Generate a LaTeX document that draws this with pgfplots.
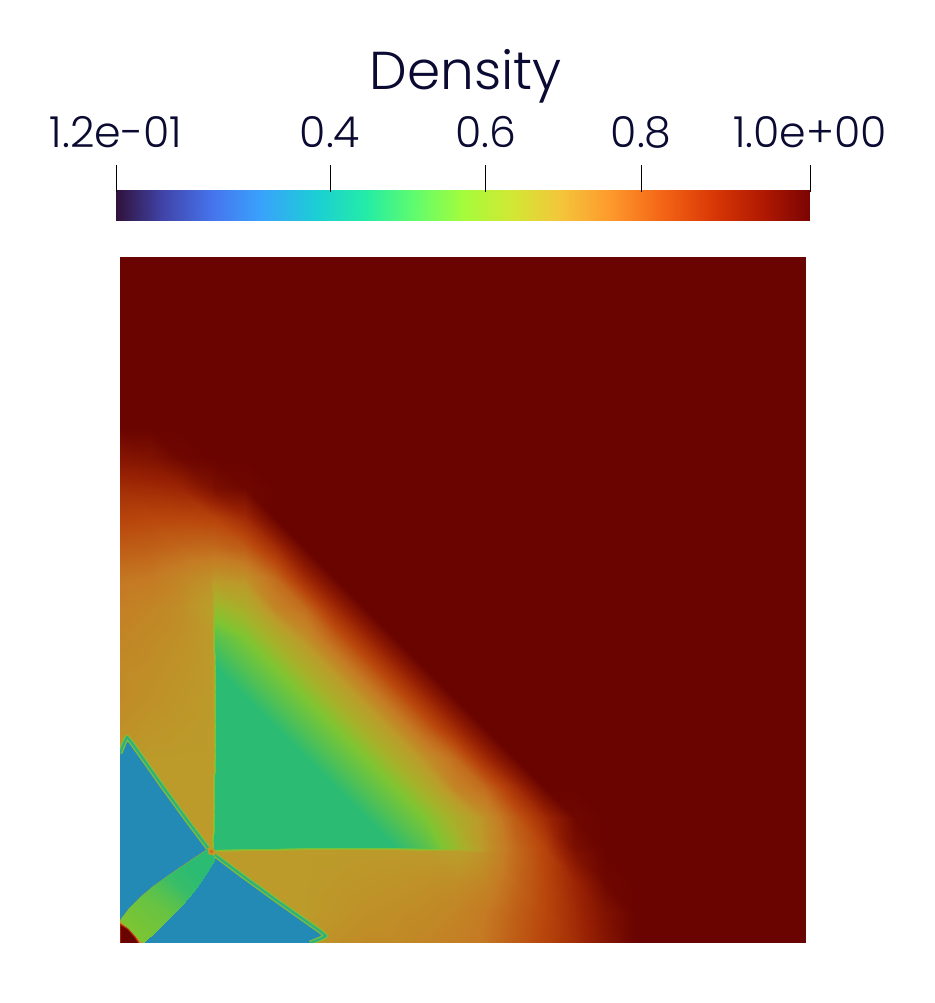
\documentclass[border=0pt]{standalone}
\usepackage{fontspec}
\setmainfont{Poppins Light}
\usepackage{pgfplots}
\pgfplotsset{compat=1.18}
\usepgfplotslibrary{patchplots}
\definecolor{labelnavy}{RGB}{10,10,50}
\definecolor{fieldred}{RGB}{106,4,0}
\definecolor{fieldblue}{RGB}{34,138,180}
\definecolor{edgeouter}{RGB}{150,185,50}
\definecolor{edgemid}{RGB}{90,192,80}
\definecolor{edgeinner}{RGB}{45,175,130}
\definecolor{cornerrim}{RGB}{190,50,10}
\definecolor{triplehalo}{RGB}{188,155,42}
\definecolor{tripledot}{RGB}{225,100,30}
\pgfplotsset{
  colormap={field}{
    rgb255(120)=(42,15,50) rgb255(330)=(33,137,180) rgb255(390)=(30,160,150)
    rgb255(455)=(43,187,115) rgb255(500)=(85,193,80) rgb255(560)=(125,197,50)
    rgb255(630)=(165,178,42) rgb255(720)=(188,155,42) rgb255(780)=(197,122,35)
    rgb255(850)=(185,70,12) rgb255(920)=(150,32,3) rgb255(1000)=(106,4,0)},
  colormap={turbobar}{
    rgb255(125)=(48,18,59) rgb255(187)=(65,69,171) rgb255(250)=(70,117,237)
    rgb255(312)=(57,162,252) rgb255(384)=(27,207,212) rgb255(446)=(36,236,166)
    rgb255(509)=(97,252,108) rgb255(571)=(164,252,59) rgb255(633)=(209,232,52)
    rgb255(696)=(243,198,58) rgb255(758)=(254,155,45) rgb255(830)=(243,99,21)
    rgb255(892)=(217,56,6) rgb255(955)=(177,25,1) rgb255(1017)=(122,4,2)},
}
\begin{document}
\begin{tikzpicture}
\path[use as bounding box] (0,0) rectangle (701.25pt,752.25pt);

% colour bar
\begin{axis}[
  at={(87pt,586.5pt)}, anchor=south west,
  scale only axis, width=520.5pt, height=23.25pt,
  view={0}{90},
  colormap name=turbobar,
  point meta min=0.125, point meta max=1.017,
  xmin=0.125, xmax=1.017, ymin=0, ymax=1, zmin=0, zmax=2,
  axis line style={draw=none},
  xtick={0.125,0.4,0.6,0.8,1.017},
  xticklabels={1.2e-01,0.4,0.6,0.8,1.0e+00},
  ytick=\empty, ztick=\empty,
  xtick pos=upper, xticklabel pos=upper,
  tick align=outside,
  major tick length=20pt,
  every tick/.style={draw=black, line width=0.6pt, yshift=-1.5pt},
  xticklabel style={font=\fontsize{32}{36}\selectfont, text=labelnavy, anchor=base, yshift=12pt},
  title={Density},
  title style={at={(axis description cs:0.504,3.97)}, anchor=base,
    font=\fontsize{40}{46}\selectfont, text=labelnavy},
  clip=false,
]
\addplot3[surf, shader=interp, mesh/cols=15, point meta=z] coordinates {
 (0.125,0,0.125)(0.187,0,0.187)(0.250,0,0.250)(0.312,0,0.312)(0.384,0,0.384)(0.446,0,0.446)(0.509,0,0.509)(0.571,0,0.571)(0.633,0,0.633)(0.696,0,0.696)(0.758,0,0.758)(0.830,0,0.830)(0.892,0,0.892)(0.955,0,0.955)(1.017,0,1.017)
 (0.125,1,0.125)(0.187,1,0.187)(0.250,1,0.250)(0.312,1,0.312)(0.384,1,0.384)(0.446,1,0.446)(0.509,1,0.509)(0.571,1,0.571)(0.633,1,0.633)(0.696,1,0.696)(0.758,1,0.758)(0.830,1,0.830)(0.892,1,0.892)(0.955,1,0.955)(1.017,1,1.017)
};
\end{axis}

% density field, coordinates in reference pixels from the lower left corner
\begin{axis}[
  at={(90pt,45pt)}, anchor=south west,
  scale only axis, width=514.5pt, height=514.5pt,
  view={0}{90},
  colormap name=field,
  point meta min=0.12, point meta max=1,
  xmin=0, xmax=686, ymin=0, ymax=686, zmin=0, zmax=2,
  hide axis,
]
\addplot3[fill=fieldred, draw=none] coordinates {(0,0,0)(686,0,0)(686,686,0)(0,686,0)};

\addplot3[surf, shader=interp, mesh/cols=19, point meta=z] coordinates {
(0,0,.72)(30,0,.72)(60,0,.72)(91,0,.72)(94,0,.72)(125,0,.72)(155,0,.72)(185,0,.72)(215,0,.74)(245,0,.75)(275,0,.75)(305,0,.76)(335,0,.77)(365,0,.785)(395,0,.82)(425,0,.855)(455,0,.895)(485,0,.95)(515,0,1)
(0,30,.72)(30,30,.72)(60,30,.72)(91,30,.72)(94,30,.72)(125,30,.72)(155,30,.72)(185,30,.72)(215,30,.73)(245,30,.74)(275,30,.745)(305,30,.75)(335,30,.76)(365,30,.78)(395,30,.815)(425,30,.85)(455,30,.90)(485,30,.96)(515,30,1)
(0,60,.72)(30,60,.72)(60,60,.72)(91,60,.72)(94,60,.72)(125,60,.72)(155,60,.72)(185,60,.72)(215,60,.725)(245,60,.73)(275,60,.735)(305,60,.74)(335,60,.745)(365,60,.76)(395,60,.805)(425,60,.85)(455,60,.91)(485,60,.99)(515,60,1)
(0,91,.72)(30,91,.72)(60,91,.72)(91,91,.72)(94,91,.72)(125,92,.72)(155,92,.72)(185,93,.72)(215,93,.72)(245,93,.72)(275,93,.72)(305,92,.72)(335,92,.71)(365,91,.74)(395,91,.80)(425,91,.855)(455,91,.96)(485,91,1)(515,91,1)
(0,94,.72)(30,94,.72)(60,94,.72)(91,94,.72)(94,94,.455)(125,95,.455)(155,95,.455)(185,96,.455)(215,96,.455)(245,96,.455)(275,96,.455)(305,95,.50)(335,95,.60)(365,94,.73)(395,94,.80)(425,94,.855)(455,94,.97)(485,94,1)(515,94,1)
(0,125,.72)(30,125,.72)(60,125,.72)(92,125,.72)(95,125,.455)(125,125,.455)(155,125,.455)(185,125,.455)(215,125,.455)(245,125,.455)(275,125,.50)(305,125,.56)(335,125,.65)(365,125,.74)(395,125,.82)(425,125,.90)(455,125,.99)(485,125,1)(515,125,1)
(0,155,.72)(30,155,.72)(60,155,.72)(92,155,.72)(95,155,.455)(125,155,.455)(155,155,.455)(185,155,.455)(215,155,.455)(245,155,.50)(275,155,.56)(305,155,.65)(335,155,.76)(365,155,.80)(395,155,.89)(425,155,1)(455,155,1)(485,155,1)(515,155,1)
(0,185,.72)(30,185,.72)(60,185,.72)(93,185,.72)(96,185,.455)(125,185,.455)(155,185,.455)(185,185,.455)(215,185,.50)(245,185,.56)(275,185,.65)(305,185,.74)(335,185,.80)(365,185,.90)(395,185,1)(425,185,1)(455,185,1)(485,185,1)(515,185,1)
(0,215,.74)(30,215,.73)(60,215,.725)(93,215,.72)(96,215,.455)(125,215,.455)(155,215,.455)(185,215,.50)(215,215,.56)(245,215,.65)(275,215,.74)(305,215,.815)(335,215,.90)(365,215,1)(395,215,1)(425,215,1)(455,215,1)(485,215,1)(515,215,1)
(0,245,.75)(30,245,.74)(60,245,.73)(93,245,.72)(96,245,.455)(125,245,.455)(155,245,.50)(185,245,.56)(215,245,.65)(245,245,.74)(275,245,.815)(305,245,.90)(335,245,1)(365,245,1)(395,245,1)(425,245,1)(455,245,1)(485,245,1)(515,245,1)
(0,275,.75)(30,275,.745)(60,275,.735)(93,275,.72)(96,275,.455)(125,275,.50)(155,275,.56)(185,275,.65)(215,275,.74)(245,275,.815)(275,275,.90)(305,275,1)(335,275,1)(365,275,1)(395,275,1)(425,275,1)(455,275,1)(485,275,1)(515,275,1)
(0,305,.76)(30,305,.75)(60,305,.74)(92,305,.72)(95,305,.50)(125,305,.56)(155,305,.65)(185,305,.74)(215,305,.815)(245,305,.90)(275,305,1)(305,305,1)(335,305,1)(365,305,1)(395,305,1)(425,305,1)(455,305,1)(485,305,1)(515,305,1)
(0,335,.77)(30,335,.76)(60,335,.745)(92,335,.71)(95,335,.60)(125,335,.65)(155,335,.76)(185,335,.80)(215,335,.90)(245,335,1)(275,335,1)(305,335,1)(335,335,1)(365,335,1)(395,335,1)(425,335,1)(455,335,1)(485,335,1)(515,335,1)
(0,365,.785)(30,365,.78)(60,365,.76)(91,365,.74)(94,365,.73)(125,365,.74)(155,365,.80)(185,365,.90)(215,365,1)(245,365,1)(275,365,1)(305,365,1)(335,365,1)(365,365,1)(395,365,1)(425,365,1)(455,365,1)(485,365,1)(515,365,1)
(0,395,.82)(30,395,.815)(60,395,.805)(91,395,.80)(94,395,.80)(125,395,.82)(155,395,.89)(185,395,1)(215,395,1)(245,395,1)(275,395,1)(305,395,1)(335,395,1)(365,395,1)(395,395,1)(425,395,1)(455,395,1)(485,395,1)(515,395,1)
(0,425,.855)(30,425,.85)(60,425,.85)(91,425,.855)(94,425,.855)(125,425,.90)(155,425,1)(185,425,1)(215,425,1)(245,425,1)(275,425,1)(305,425,1)(335,425,1)(365,425,1)(395,425,1)(425,425,1)(455,425,1)(485,425,1)(515,425,1)
(0,455,.895)(30,455,.90)(60,455,.91)(91,455,.96)(94,455,.97)(125,455,.99)(155,455,1)(185,455,1)(215,455,1)(245,455,1)(275,455,1)(305,455,1)(335,455,1)(365,455,1)(395,455,1)(425,455,1)(455,455,1)(485,455,1)(515,455,1)
(0,485,.95)(30,485,.96)(60,485,.99)(91,485,1)(94,485,1)(125,485,1)(155,485,1)(185,485,1)(215,485,1)(245,485,1)(275,485,1)(305,485,1)(335,485,1)(365,485,1)(395,485,1)(425,485,1)(455,485,1)(485,485,1)(515,485,1)
(0,515,1)(30,515,1)(60,515,1)(91,515,1)(94,515,1)(125,515,1)(155,515,1)(185,515,1)(215,515,1)(245,515,1)(275,515,1)(305,515,1)(335,515,1)(365,515,1)(395,515,1)(425,515,1)(455,515,1)(485,515,1)(515,515,1)
};

% low density wedges with their thin shock edges
\addplot3[fill=fieldblue, draw=none] coordinates {(0,23,1)(9,35,1)(20,46,1)(33,57,1)(47,67,1)(60,76,1)(72,84,1)(87,94,1)(86,97,1)(67,123,1)(43,156,1)(12,200,1)(7,206,1)(4,200,1)(0,190,1)};
\addplot3[fill=fieldblue, draw=none] coordinates {(23,0,1)(37,13,1)(50,26,1)(60,36,1)(69,46,1)(77,56,1)(85,68,1)(95,84,1)(97,86,1)(123,67,1)(156,43,1)(200,12,1)(206,7,1)(200,4,1)(190,0,1)};
\addplot3[draw=edgeouter, line width=3.6pt, line join=round] coordinates {(88,95,1)(67,123,1)(43,156,1)(12,200,1)(7,206,1)(4,200,1)(0,190,1)};
\addplot3[draw=edgeouter, line width=3.6pt, line join=round] coordinates {(95,88,1)(123,67,1)(156,43,1)(200,12,1)(206,7,1)(200,4,1)(190,0,1)};
\addplot3[draw=edgemid, line width=2.4pt, line join=round] coordinates {(88,95,1)(67,123,1)(43,156,1)(12,200,1)(7,206,1)(4,200,1)(0,190,1)};
\addplot3[draw=edgemid, line width=2.4pt, line join=round] coordinates {(95,88,1)(123,67,1)(156,43,1)(200,12,1)(206,7,1)(200,4,1)(190,0,1)};
\addplot3[draw=edgeinner, line width=1.2pt, line join=round] coordinates {(88,95,1)(67,123,1)(43,156,1)(12,200,1)(7,206,1)(4,200,1)(0,190,1)};
\addplot3[draw=edgeinner, line width=1.2pt, line join=round] coordinates {(95,88,1)(123,67,1)(156,43,1)(200,12,1)(206,7,1)(200,4,1)(190,0,1)};

% lens between the wedges
\addplot3[surf, shader=interp, mesh/cols=2, point meta=z] coordinates {
 (0,23,.56)(23,0,.56)
 (9,35,.545)(37,13,.545)
 (20,46,.53)(50,26,.53)
 (33,57,.50)(60,36,.50)
 (47,67,.47)(69,46,.47)
 (60,76,.46)(77,56,.46)
 (72,84,.455)(85,68,.455)
 (87,94,.455)(95,84,.455)
};

% dense corner and triple point
\addplot3[fill=fieldred, draw=cornerrim, line width=0.8pt] coordinates {(0,0,1)(0,19,1)(8,14,1)(15,6,1)(19,0,1)};
\addplot3[only marks, mark=*, mark size=2.6pt, color=triplehalo] coordinates {(91.5,91.5,1)};
\addplot3[only marks, mark=*, mark size=1.1pt, color=tripledot] coordinates {(91.5,91.5,1)};
\end{axis}
\end{tikzpicture}
\end{document}
